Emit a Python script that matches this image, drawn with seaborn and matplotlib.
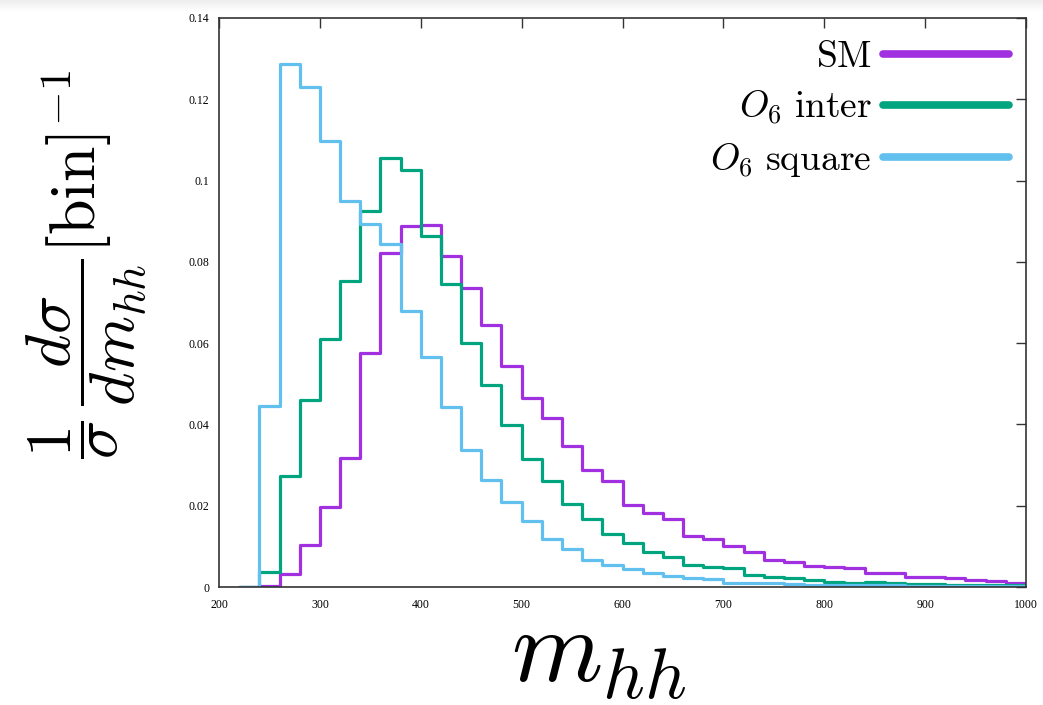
import numpy as np
import pandas as pd
import matplotlib
matplotlib.use("Agg")
import matplotlib.pyplot as plt
import seaborn as sns
from matplotlib.ticker import FuncFormatter, MultipleLocator
from matplotlib.lines import Line2D

# ---- data (bin lower edges, width 20) ----
bin_lo = list(range(220, 1000, 20))
sm = [0.0, 0.0003, 0.0032, 0.0103, 0.0198, 0.0318, 0.0576, 0.0821, 0.0888, 0.0891,
      0.0814, 0.0736, 0.0645, 0.0544, 0.0464, 0.0415, 0.0347, 0.0288, 0.0261, 0.0202,
      0.0182, 0.0167, 0.0125, 0.0118, 0.0102, 0.0085, 0.0066, 0.0062, 0.0052, 0.0048,
      0.0046, 0.0035, 0.0034, 0.0025, 0.0024, 0.0021, 0.0016, 0.0015, 0.0011]
o6_inter = [0.0, 0.0038, 0.0273, 0.0460, 0.0610, 0.0754, 0.0925, 0.1055, 0.1026, 0.0863,
            0.0745, 0.0601, 0.0497, 0.0398, 0.0314, 0.0262, 0.0205, 0.0168, 0.0130, 0.0108,
            0.0087, 0.0073, 0.0054, 0.0048, 0.0046, 0.0030, 0.0025, 0.0021, 0.0017, 0.0013,
            0.0011, 0.0012, 0.0009, 0.0008, 0.0007, 0.0006, 0.0006, 0.0005, 0.0005]
o6_square = [0.0, 0.0445, 0.1286, 0.1229, 0.1098, 0.0950, 0.0893, 0.0845, 0.0678, 0.0566,
             0.0442, 0.0336, 0.0263, 0.0208, 0.0162, 0.0119, 0.0093, 0.0066, 0.0054, 0.0044,
             0.0034, 0.0028, 0.0023, 0.0019, 0.0011, 0.0010, 0.0009, 0.0007, 0.0006, 0.0005,
             0.0005, 0.0004, 0.0004, 0.0003, 0.0003, 0.0003, 0.0002, 0.0002, 0.0002]
labels = [r"$\mathrm{SM}$", r"$O_6\ \mathrm{inter}$", r"$O_6\ \mathrm{square}$"]
colors = ["#a030e0", "#00a57f", "#62c0ee"]
x_ticks = [200, 300, 400, 500, 600, 700, 800, 900, 1000]

sns.set_theme(style="white")
plt.rcParams["mathtext.fontset"] = "cm"
plt.rcParams["font.family"] = ["Liberation Serif", "DejaVu Serif"]
plt.rcParams["text.color"] = "black"
plt.rcParams["axes.labelcolor"] = "black"

edges = bin_lo + [bin_lo[-1] + 20]
centers = [b + 10 for b in bin_lo]

fig = plt.figure(figsize=(10.43, 7.05), dpi=100)

# faint shadow band at the top of the image
shade = fig.add_axes([0, 1 - 12 / 705, 1, 12 / 705])
grad = np.linspace(0, 1, 12).reshape(-1, 1)
shade.imshow(grad, aspect="auto", cmap="Greys_r", vmin=-6, vmax=1, extent=[0, 1, 0, 1])
shade.set_axis_off()

ax = fig.add_axes([219 / 1043, 1 - 587 / 705, (1026 - 219) / 1043, (587 - 18) / 705])

for vals, lab, col in zip([sm, o6_inter, o6_square], labels, colors):
    df = pd.DataFrame({"x": centers, "w": vals})
    sns.histplot(data=df, x="x", weights="w", bins=edges, element="step", fill=False,
                 color=col, linewidth=2.3, ax=ax, label=lab)

ax.set_xlim(200, 1000)
ax.set_ylim(0, 0.14)
ax.set_xticks(x_ticks)
ax.yaxis.set_major_locator(MultipleLocator(0.02))
ax.yaxis.set_major_formatter(FuncFormatter(lambda v, p: "%g" % round(v, 4)))
ax.tick_params(direction="in", top=True, right=True, length=7, width=1,
               labelsize=8.5, colors="#333333", labelcolor="black")
ax.tick_params(axis="y", pad=7)
ax.tick_params(axis="x", pad=9)
for s in ax.spines.values():
    s.set_color("#333333")
    s.set_linewidth(1.2)

ax.set_xlabel(r"$m_{hh}$", fontsize=75)
ax.xaxis.set_label_coords(0.471, -0.041)
ax.set_ylabel(r"$\dfrac{1}{\sigma}\,\dfrac{d\sigma}{dm_{hh}}[\mathrm{bin}]^{-1}$",
              fontsize=46)
ax.yaxis.set_label_coords(-0.086, 0.566)

hs = [Line2D([0], [0], color=c, lw=5.5) for c in colors]
ax.legend(hs, labels, loc="upper right", markerfirst=False, frameon=False,
          fontsize=27, handlelength=3.36, handletextpad=0.3, labelspacing=0.36,
          borderpad=0, borderaxespad=0, bbox_to_anchor=(0.979, 0.96))

fig.savefig("out.png", dpi=100, facecolor="white")
